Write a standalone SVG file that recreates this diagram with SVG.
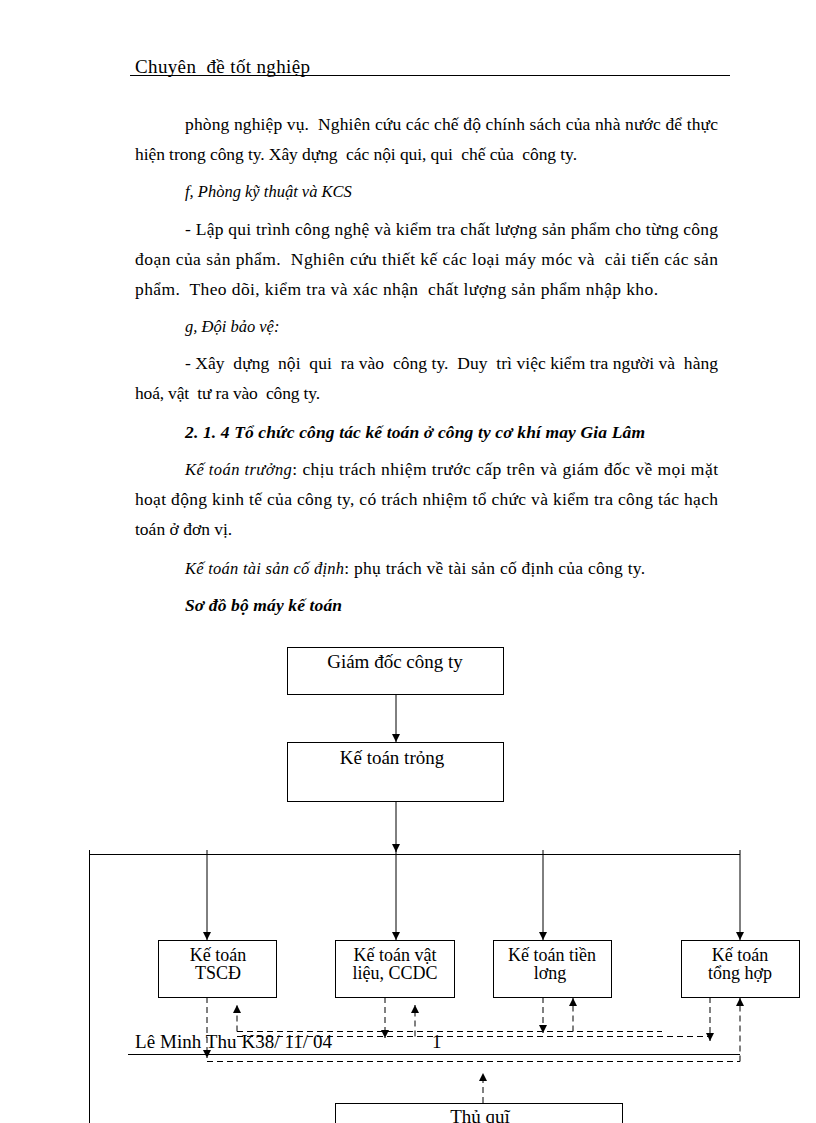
<svg xmlns="http://www.w3.org/2000/svg" width="816" height="1123" viewBox="0 0 816 1123">
<style>
text{white-space:pre}
.t{font-family:"Liberation Serif","Times New Roman",serif;font-size:17.5px;fill:#000}
.i{font-style:italic}
.is{font-style:italic;font-size:16.5px}
.bi{font-style:italic;font-weight:bold}
.bx{fill:#fff;stroke:#000;stroke-width:1}
.bt{font-family:"Liberation Serif","Times New Roman",serif;font-size:18px;fill:#000;text-anchor:middle}
.s{stroke:#000;stroke-width:1;fill:none}
.d{stroke:#000;stroke-width:1;fill:none;stroke-dasharray:6 4}
</style>
<defs>
<marker id="ah" viewBox="0 0 8 8" refX="8" refY="4" markerWidth="8" markerHeight="8" markerUnits="userSpaceOnUse" orient="auto">
<path d="M0,0 L8,4 L0,8 z" fill="#000"/>
</marker>
</defs>
<rect width="816" height="1123" fill="#fff"/>

<g id="page-text">
<text class="t" x="135" y="73" style="font-size:19px" textLength="175" lengthAdjust="spacing">Chuyên  đề tốt nghiệp</text>
<line x1="130" y1="75.5" x2="730" y2="75.5" stroke="#000" stroke-width="1"/>
<text class="t" x="185" y="130" textLength="533" lengthAdjust="spacing">phòng nghiệp vụ.  Nghiên cứu các chế độ chính sách của nhà nước để thực</text>
<text class="t" x="135" y="160" textLength="442" lengthAdjust="spacing">hiện trong công ty. Xây dựng  các nội qui, qui  chế của  công ty.</text>
<text class="t is" x="185" y="197">f, Phòng kỹ thuật và KCS</text>
<text class="t" x="185" y="235" textLength="533" lengthAdjust="spacing">- Lập qui trình công nghệ và kiểm tra chất lượng sản phẩm cho từng công</text>
<text class="t" x="135" y="265" textLength="583" lengthAdjust="spacing">đoạn của sản phẩm.  Nghiên cứu thiết kế các loại máy móc và  cải tiến các sản</text>
<text class="t" x="135" y="295" textLength="523" lengthAdjust="spacing">phẩm.  Theo dõi, kiểm tra và xác nhận  chất lượng sản phẩm nhập kho.</text>
<text class="t is" x="185" y="332">g, Đội bảo vệ:</text>
<text class="t" x="185" y="369" textLength="533" lengthAdjust="spacing">- Xây  dựng  nội  qui  ra vào  công ty.  Duy  trì việc kiểm tra người và  hàng</text>
<text class="t" x="135" y="399" textLength="185" lengthAdjust="spacing">hoá, vật  tư ra vào  công ty.</text>
<text class="t bi" x="185" y="438" textLength="460" lengthAdjust="spacing">2. 1. 4 Tổ chức công tác kế toán ở công ty cơ khí may Gia Lâm</text>
<text class="t" x="185" y="475" textLength="533" lengthAdjust="spacing"><tspan class="is">Kế toán trưởng</tspan>: chịu trách nhiệm trước cấp trên và giám đốc về mọi mặt</text>
<text class="t" x="135" y="505" textLength="583" lengthAdjust="spacing">hoạt động kinh tế của công ty, có trách nhiệm tổ chức và kiểm tra công tác hạch</text>
<text class="t" x="135" y="535">toán ở đơn vị.</text>
<text class="t" x="185" y="574" textLength="460" lengthAdjust="spacing"><tspan class="is">Kế toán tài sản cố định</tspan>: phụ trách về tài sản cố định của công ty.</text>
<text class="t bi" x="185" y="611" textLength="157" lengthAdjust="spacing">Sơ đồ bộ máy kế toán</text>
<text class="t" x="135" y="1048" style="font-size:19px" textLength="197" lengthAdjust="spacing">Lê Minh Thu K38/ 11/ 04</text>
<text class="t" x="432" y="1048" style="font-size:19px">1</text>
<line x1="128" y1="1054.5" x2="740" y2="1054.5" stroke="#000" stroke-width="1"/>
</g>

<g id="connectors">
<line class="s" x1="396" y1="694" x2="396" y2="742" marker-end="url(#ah)"/>
<line class="s" x1="396" y1="801" x2="396" y2="852" marker-end="url(#ah)"/>
<line class="s" x1="89" y1="854.5" x2="740" y2="854.5"/>
<line class="s" x1="89.5" y1="850" x2="89.5" y2="1123"/>
<line class="s" x1="207" y1="850" x2="207" y2="940" marker-end="url(#ah)"/>
<line class="s" x1="396" y1="850" x2="396" y2="940" marker-end="url(#ah)"/>
<line class="s" x1="543" y1="850" x2="543" y2="940" marker-end="url(#ah)"/>
<line class="s" x1="740" y1="850" x2="740" y2="940" marker-end="url(#ah)"/>

<line class="d" x1="207" y1="997" x2="207" y2="1058" marker-end="url(#ah)"/>
<line class="d" x1="207" y1="1061.5" x2="740" y2="1061.5"/>
<line class="d" x1="740" y1="1061.5" x2="740" y2="998" marker-end="url(#ah)"/>
<line class="d" x1="237" y1="1031.5" x2="237" y2="1005" marker-end="url(#ah)"/>
<line class="d" x1="237" y1="1031.5" x2="662" y2="1031.5"/>
<line class="d" x1="237" y1="1036.5" x2="710" y2="1036.5"/>
<line class="d" x1="385" y1="997" x2="385" y2="1038" marker-end="url(#ah)"/>
<line class="d" x1="415" y1="1036.5" x2="415" y2="1005" marker-end="url(#ah)"/>
<line class="d" x1="543" y1="997" x2="543" y2="1033" marker-end="url(#ah)"/>
<line class="d" x1="573" y1="1031.5" x2="573" y2="998" marker-end="url(#ah)"/>
<line class="d" x1="710" y1="997" x2="710" y2="1041" marker-end="url(#ah)"/>
<line class="d" x1="483" y1="1103" x2="483" y2="1073" marker-end="url(#ah)"/>
</g>

<g id="giam-doc">
<rect class="bx" x="287.5" y="647.5" width="216" height="47"/>
<text class="bt" x="395" y="668" style="font-size:19px">Giám đốc công ty</text>
</g>
<g id="ke-toan-truong">
<rect class="bx" x="287.5" y="742.5" width="216" height="59"/>
<text class="bt" x="392" y="764" style="font-size:19px">Kế toán trỏng</text>
</g>
<g id="kt-tscd">
<rect class="bx" x="158.5" y="940.5" width="118" height="57"/>
<text class="bt" x="218" y="961">Kế toán</text>
<text class="bt" x="218" y="979">TSCĐ</text>
</g>
<g id="kt-vat-lieu">
<rect class="bx" x="335.5" y="940.5" width="119" height="57"/>
<text class="bt" x="395" y="961">Kế toán vật</text>
<text class="bt" x="395" y="979">liệu, CCDC</text>
</g>
<g id="kt-tien-luong">
<rect class="bx" x="493.5" y="940.5" width="118" height="57"/>
<text class="bt" x="552" y="961">Kế toán tiền</text>
<text class="bt" x="550" y="979">lơng</text>
</g>
<g id="kt-tong-hop">
<rect class="bx" x="681.5" y="940.5" width="118" height="57"/>
<text class="bt" x="740" y="961">Kế toán</text>
<text class="bt" x="740" y="979">tổng hợp</text>
</g>
<g id="thu-quy">
<rect class="bx" x="335.5" y="1103.5" width="287" height="40"/>
<text class="bt" x="480" y="1123" style="font-size:19px">Thủ quĩ</text>
</g>
</svg>
